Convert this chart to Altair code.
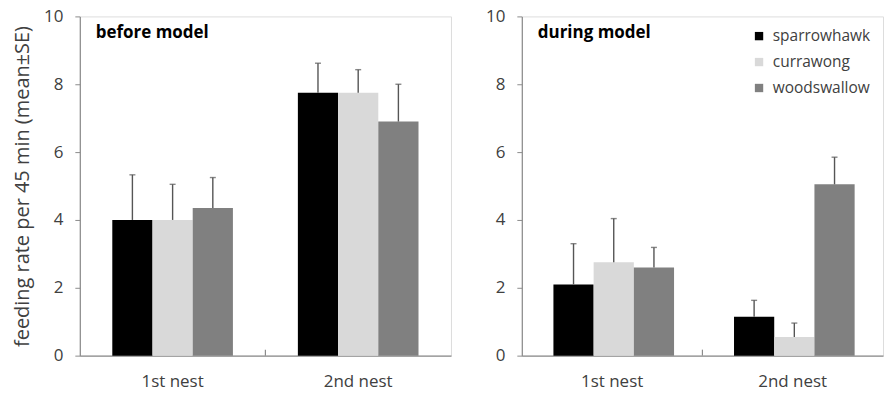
import altair as alt
import pandas as pd

# Nest rounds, model species and their fill shades
nests = ["1st nest", "2nd nest"]
species = ["sparrowhawk", "currawong", "woodswallow"]
shades = ["#000000", "#d9d9d9", "#808080"]

# Feeding rate per 45 min, mean and SE, ordered nest by nest then species
before_mean = [4.0, 4.0, 4.35, 7.75, 7.75, 6.9]
before_se = [1.33, 1.05, 0.9, 0.87, 0.68, 1.1]
during_mean = [2.1, 2.75, 2.6, 1.15, 0.55, 5.05]
during_se = [1.2, 1.29, 0.59, 0.48, 0.41, 0.8]

y_ticks = [0, 2, 4, 6, 8, 10]

FONT = "Open Sans"
TEXT = "#404040"
LINE = "#8c8c8c"
ERR = "#555555"

PAD_INNER = 0.35
PAD_OUTER = 0.175
PLOT_H = 340


def panel(means, ses, label, width, y_title, legend):
    df = pd.DataFrame({
        "nest": [n for n in nests for _ in species],
        "species": species * len(nests),
        "mean": means,
        "se": ses,
    })
    x_scale = alt.Scale(paddingInner=PAD_INNER, paddingOuter=PAD_OUTER)
    base = alt.Chart(df).transform_calculate(upper="datum.mean + datum.se").encode(
        x=alt.X(
            "nest:N", sort=nests, title=None, scale=x_scale,
            axis=alt.Axis(
                labelFontSize=17, labelColor=TEXT, labelFont=FONT, labelAngle=0,
                domainColor=LINE, domainWidth=1.2, ticks=False, labelPadding=18,
            ),
        ),
        xOffset=alt.XOffset("species:N", sort=species,
                            scale=alt.Scale(paddingInner=0, paddingOuter=0)),
    )
    y_axis = alt.Axis(
        values=y_ticks, grid=False, labelFontSize=17, labelColor=TEXT,
        labelFont=FONT, domainColor=LINE, domainWidth=1.2, tickColor=LINE,
        tickSize=5, labelPadding=12, title=y_title, titleFont=FONT,
        titleFontSize=20, titleFontWeight="normal", titleColor=TEXT,
        titlePadding=11,
    )
    bars = base.mark_bar().encode(
        y=alt.Y("mean:Q", scale=alt.Scale(domain=[0, 10]), axis=y_axis),
        color=alt.Color("species:N", sort=species,
                        scale=alt.Scale(domain=species, range=shades),
                        legend=legend),
    )
    err = base.mark_rule(color=ERR, strokeWidth=1.4).encode(
        y="mean:Q", y2="upper:Q"
    )
    cap = base.mark_tick(color=ERR, size=6, thickness=1.4).encode(y="upper:Q")

    # category divider tick, standing up from the baseline between the two nests
    step = width / (len(nests) - PAD_INNER + 2 * PAD_OUTER)
    divider = alt.Chart(pd.DataFrame({"nest": nests[1:]})).mark_rule(
        color=LINE, strokeWidth=1.2, xOffset=-PAD_INNER * step / 2
    ).encode(
        x=alt.X("nest:N", sort=nests, bandPosition=0),
        y=alt.value(PLOT_H - 6),
        y2=alt.value(PLOT_H),
    )
    heading = alt.Chart(pd.DataFrame({"t": [label]})).mark_text(
        font=FONT, fontSize=17, fontWeight="bold", color="#000000",
        align="left", baseline="middle",
    ).encode(x=alt.value(16), y=alt.value(17), text="t:N")
    return alt.layer(bars, err, cap, divider, heading).properties(
        width=width, height=PLOT_H
    )


legend = alt.Legend(
    orient="none", legendX=230, legendY=12, title=None,
    symbolType="square", symbolSize=70, symbolStrokeWidth=0,
    labelFontSize=15.5, labelColor=TEXT, labelFont=FONT, rowPadding=9,
    labelOffset=6,
)

left = panel(before_mean, before_se, "before model", 372,
             "feeding rate per 45 min (mean±SE)", None)
right = panel(during_mean, during_se, "during model", 362, None, legend)

chart = alt.hconcat(left, right, spacing=33).resolve_legend(
    color="independent"
).properties(
    padding={"left": 12, "top": 6, "right": 0, "bottom": 0}
).configure_view(stroke=LINE, strokeWidth=1.2).configure(background="#ffffff")

chart.save("out.html", embed_options={"renderer": "svg", "actions": False})
